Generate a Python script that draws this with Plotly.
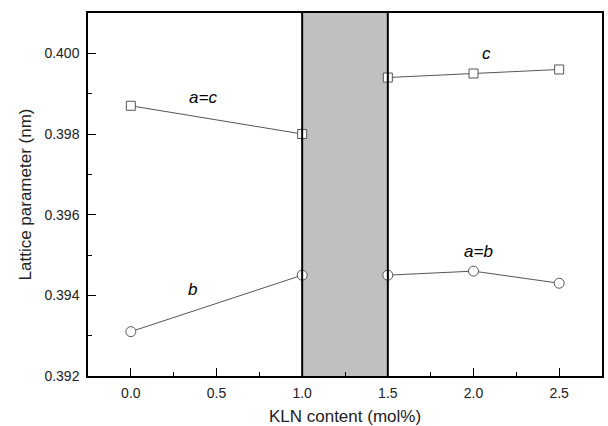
import plotly.graph_objects as go

# Data
kln = [0.0, 1.0, 1.5, 2.0, 2.5]
c_left_x = [0.0, 1.0]
c_left = [0.3987, 0.3980]
c_right_x = [1.5, 2.0, 2.5]
c_right = [0.3994, 0.3995, 0.3996]
b_left_x = [0.0, 1.0]
b_left = [0.3931, 0.3945]
b_right_x = [1.5, 2.0, 2.5]
b_right = [0.3945, 0.3946, 0.3943]

region = [1.0, 1.5]

line_col = "#555555"
fig = go.Figure()

def add(xs, ys, symbol, size):
    fig.add_trace(go.Scatter(
        x=xs, y=ys, mode="lines+markers",
        line=dict(color=line_col, width=1),
        marker=dict(symbol=symbol, size=size, color="white",
                    line=dict(color=line_col, width=1)),
        showlegend=False, cliponaxis=False))

add(c_left_x, c_left, "square", 9)
add(c_right_x, c_right, "square", 9)
add(b_left_x, b_left, "circle", 10)
add(b_right_x, b_right, "circle", 10)

fig.add_shape(type="rect", xref="x", yref="paper", x0=region[0], x1=region[1],
              y0=0, y1=1, fillcolor="#c0c0c0", line=dict(width=0), layer="below")
for xv in region:
    fig.add_shape(type="line", xref="x", yref="paper", x0=xv, x1=xv, y0=0, y1=1,
                  line=dict(color="black", width=2), layer="above")

labels = [("a=c", 0.42, 0.39891), ("b", 0.36, 0.39415),
          ("c", 2.075, 0.4000), ("a=b", 2.03, 0.39509)]
for t, x, y in labels:
    fig.add_annotation(x=x, y=y, xref="x", yref="y", text="<i>%s</i>" % t,
                       showarrow=False, bgcolor="white",
                       font=dict(size=17, color="black"), borderpad=3)

axis_common = dict(showgrid=False, zeroline=False, showline=True, linecolor="black",
                   linewidth=1.5, mirror=True, ticks="inside", ticklen=8,
                   tickcolor="black", tickwidth=1.2, automargin=False,
                   tickfont=dict(size=14, color="#222222"))

fig.update_xaxes(range=[-0.25, 2.75], tickvals=[0, 0.5, 1.0, 1.5, 2.0, 2.5],
                 tickformat=".1f", ticklabelstandoff=3,
                 minor=dict(dtick=0.25, ticks="inside", ticklen=4, tickcolor="black"),
                 title=dict(text="KLN content (mol%)", font=dict(size=17, color="#222222"),
                            standoff=13),
                 **axis_common)
fig.update_yaxes(range=[0.392, 0.401], tickvals=[0.392, 0.394, 0.396, 0.398, 0.400],
                 tickformat=".3f",
                 minor=dict(dtick=0.001, ticks="inside", ticklen=4, tickcolor="black"),
                 ticklabelstandoff=4,
                 title=dict(text="Lattice parameter (nm)", font=dict(size=17, color="#222222"),
                            standoff=8),
                 **axis_common)

fig.update_layout(width=608, height=426, margin=dict(l=88, r=6, t=13, b=50),
                  plot_bgcolor="white", paper_bgcolor="white",
                  font=dict(family="Liberation Sans, Arial, sans-serif"))

fig.write_html("out.html")
